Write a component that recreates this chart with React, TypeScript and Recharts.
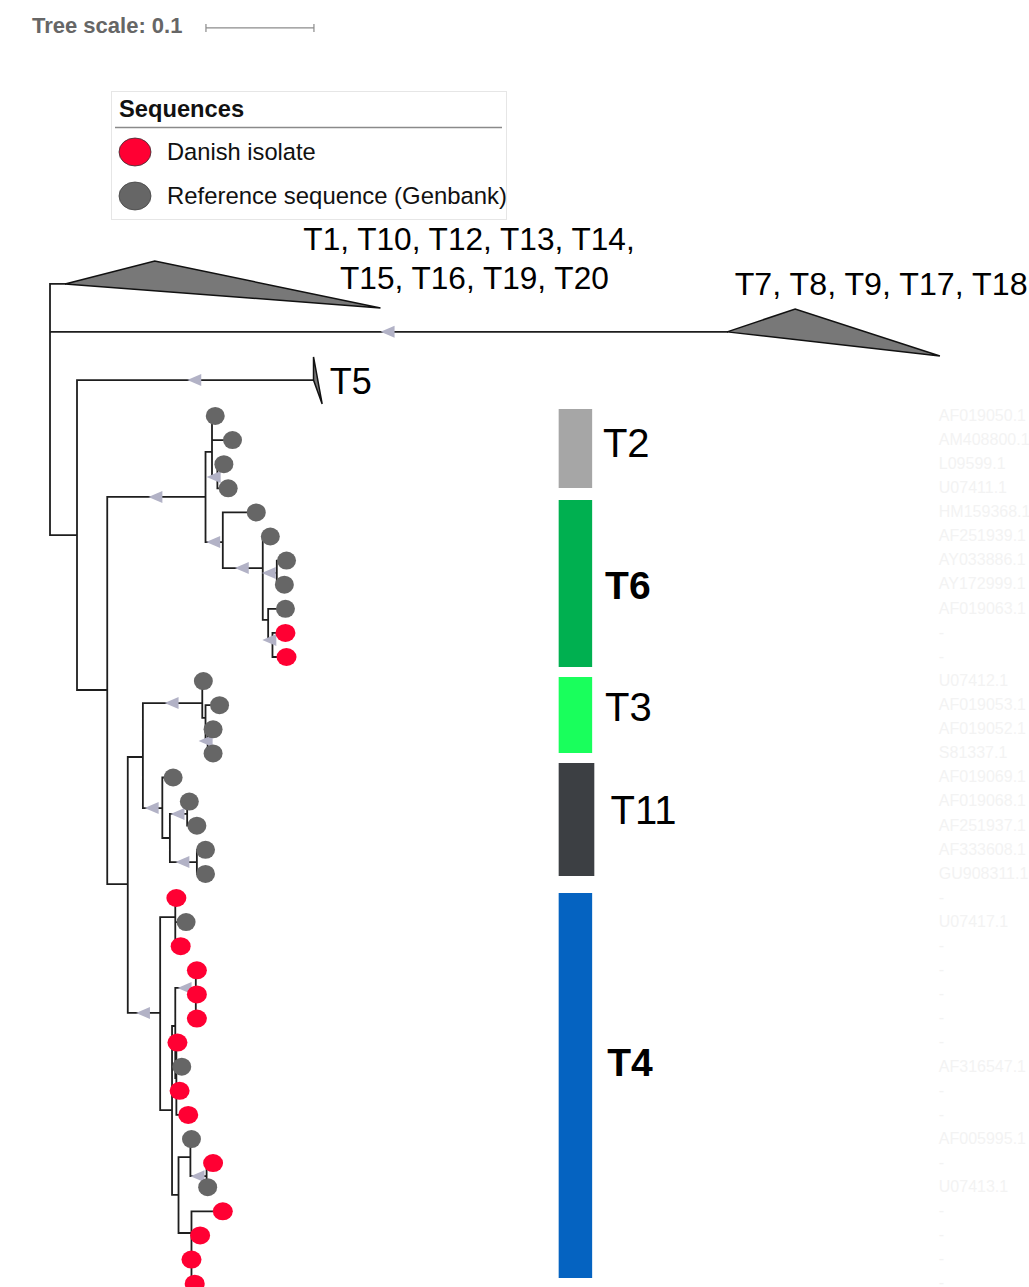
import { ReferenceArea, Scatter, ScatterChart, XAxis, YAxis } from 'recharts';

const FONT = '"Liberation Sans", Arial, Helvetica, sans-serif';

// visible window: x in tree units (substitutions/site), y in leaf rows
const X_DOMAIN = [-0.0463, 0.9065];
const Y_DOMAIN = [-17.26, 36.14];

// internal nodes: [id, parent, depth, row]
const NODES: [string, string | null, number, number][] = [
    ['root', null, 0, -0.25],
    ['A', 'root', 0.025, 4.94],
    ['B', 'A', 0.053, 11.37],
    ['C', 'B', 0.144, 3.36],
    ['D', 'C', 0.15, 1.49],
    ['D3', 'D', 0.155, 2.53],
    ['E', 'C', 0.16, 5.23],
    ['F', 'E', 0.197, 6.31],
    ['F1', 'F', 0.21, 6.51],
    ['F2', 'F', 0.202, 8.46],
    ['F3', 'F2', 0.206, 9.29],
    ['G', 'B', 0.072, 19.42],
    ['H', 'G', 0.086, 14.15],
    ['I', 'H', 0.141, 11.91],
    ['I2', 'I', 0.144, 12.53],
    ['I3', 'I2', 0.146, 13.49],
    ['J', 'H', 0.104, 16.27],
    ['K', 'J', 0.111, 17.51],
    ['K1', 'K', 0.127, 16.51],
    ['K2', 'K', 0.136, 18.51],
    ['L', 'G', 0.102, 24.77],
    ['M', 'L', 0.116, 20.79],
    ['N', 'L', 0.113, 28.8],
    ['O', 'N', 0.116, 25.31],
    ['O1', 'O', 0.135, 23.73],
    ['O2', 'O', 0.117, 27.47],
    ['P', 'N', 0.119, 32.32],
    ['Q', 'P', 0.13, 30.75],
    ['Q2', 'Q', 0.145, 31.54],
    ['R', 'P', 0.131, 33.9],
];

// leaves, one per row from the top
const LEAF_PARENT = [
    'D', 'D', 'D3', 'D3', 'E', 'F', 'F1', 'F1', 'F2', 'F3', 'F3',
    'I', 'I2', 'I3', 'I3',
    'J', 'K1', 'K1', 'K2', 'K2',
    'M', 'M', 'M', 'O1', 'O1', 'O1', 'O2', 'O2', 'O2', 'O2', 'Q', 'Q2', 'Q2', 'R', 'R', 'R', 'R',
];
const LEAF_DEPTH = [
    0.153, 0.169, 0.161, 0.165, 0.191, 0.204, 0.219, 0.217, 0.218, 0.218, 0.219,
    0.142, 0.157, 0.151, 0.151,
    0.114, 0.129, 0.136, 0.144, 0.144,
    0.117, 0.126, 0.121, 0.136, 0.136, 0.136, 0.118, 0.122, 0.12, 0.128, 0.131, 0.151, 0.146, 0.16, 0.139, 0.131, 0.134,
];
// D = Danish isolate, R = reference sequence (Genbank)
const LEAF_ORIGIN = [
    'R', 'R', 'R', 'R', 'R', 'R', 'R', 'R', 'R', 'D', 'D',
    'R', 'R', 'R', 'R',
    'R', 'R', 'R', 'R', 'R',
    'D', 'R', 'D', 'D', 'D', 'D', 'D', 'R', 'D', 'D', 'R', 'D', 'R', 'D', 'D', 'D', 'D',
];
const LEAF_ACCESSION = [
    'AF019050.1', 'AM408800.1', 'L09599.1', 'U07411.1', 'HM159368.1', 'AF251939.1', 'AY033886.1', 'AY172999.1', 'AF019063.1', '-', '-',
    'U07412.1', 'AF019053.1', 'AF019052.1', 'S81337.1',
    'AF019069.1', 'AF019068.1', 'AF251937.1', 'AF333608.1', 'GU908311.1',
    '-', 'U07417.1', '-', '-', '-', '-', '-', 'AF316547.1', '-', '-', 'AF005995.1', '-', 'U07413.1', '-', '-', '-', '-',
];

// collapsed clades
const COLLAPSED_PARENT = ['root', 'root', 'A'];
const COLLAPSED_DEPTH = [0.014, 0.627, 0.244];
const COLLAPSED_ROW = [-5.48, -3.49, -1.49];
const COLLAPSED_MIN_LEAF = [0.097, 0.69, 0.244];
const COLLAPSED_MAX_LEAF = [0.306, 0.824, 0.252];
const COLLAPSED_TOP_ROW = [-6.43, -4.44, -2.45];
const COLLAPSED_BOTTOM_ROW = [-4.48, -2.49, -0.5];

// genotype colour strips
const STRIP_NAMES = ['T2', 'T6', 'T3', 'T11', 'T4'];
const STRIP_FROM_ROW = [-0.29, 3.49, 10.83, 14.4, 19.79];
const STRIP_TO_ROW = [2.99, 10.41, 13.98, 19.09, 35.77];

// branches carrying a direction marker
const ARROW_NODES = ['C2', 'T5c', 'C', 'D3', 'E', 'F', 'F1', 'F3', 'I', 'I3', 'J', 'K1', 'K2', 'L', 'O1', 'Q2'];
const COLLAPSED_IDS = ['C1', 'C2', 'T5c'];

const SCALE_LENGTH = 0.1;

// text labels
const LABEL_TEXT = ['T1, T10, T12, T13, T14,', 'T15, T16, T19, T20', 'T7, T8, T9, T17, T18', 'T5', 'T2', 'T6', 'T3', 'T11', 'T4'];

// ---- layout / style ----
const LABEL_POS: [number, number, string, number, number][] = [
    [0.388, -7.34, 'middle', 31.6, 400],
    [0.393, -5.75, 'middle', 31.6, 400],
    [0.634, -5.52, 'start', 32.2, 400],
    [0.259, -1.45, 'start', 36, 400],
    [0.512, 1.12, 'start', 40, 400],
    [0.514, 7.01, 'start', 39, 700],
    [0.514, 12.07, 'start', 40, 400],
    [0.519, 16.35, 'start', 40, 400],
    [0.516, 26.8, 'start', 39, 700],
];
const STRIP_X: [number, number][] = [
    [0.471, 0.502],
    [0.471, 0.502],
    [0.471, 0.502],
    [0.471, 0.504],
    [0.471, 0.502],
];
const STRIP_COLORS = ['#a6a6a6', '#00b050', '#19ff5c', '#3c3f43', '#0563c1'];
const ACCESSION_X = 0.823;
const SCALE_X = 0.1444;
const SCALE_ROW = -16.1;
const RED = '#ff0033';
const GREY = '#666666';

// ---- build tree geometry from the data ----
type Node = { id: string; parent: string | null; depth: number; row: number };
const nodes: Node[] = NODES.map(([id, parent, depth, row]) => ({ id, parent, depth, row }));
const leaves = LEAF_DEPTH.map((depth, i) => ({
    id: `leaf${i}`,
    parent: LEAF_PARENT[i],
    depth,
    row: i,
    origin: LEAF_ORIGIN[i],
    acc: LEAF_ACCESSION[i],
}));
const collapsed = COLLAPSED_IDS.map((id, i) => ({
    id,
    parent: COLLAPSED_PARENT[i],
    depth: COLLAPSED_DEPTH[i],
    row: COLLAPSED_ROW[i],
}));

const byId = new Map<string, Node>();
[...nodes, ...leaves, ...collapsed].forEach((n) => byId.set(n.id, n));

const children = [...nodes.filter((n) => n.parent), ...leaves, ...collapsed];
const branchPoints: { x: number; y: number }[] = [];
children.forEach((c) => {
    const p = byId.get(c.parent as string)!;
    branchPoints.push({ x: p.depth, y: c.row }, { x: c.depth, y: c.row });
});
nodes.forEach((n) => {
    const rows = children.filter((c) => c.parent === n.id).map((c) => c.row);
    if (!rows.length) return;
    const lo = Math.min(n.row, ...rows);
    const hi = Math.max(n.row, ...rows);
    branchPoints.push({ x: n.depth, y: lo }, { x: n.depth, y: hi });
});

const arrowPoints = ARROW_NODES.map((id) => {
    const c = byId.get(id)!;
    const p = byId.get(c.parent as string)!;
    return { x: (p.depth + c.depth) / 2, y: c.row };
});

const trianglePoints = collapsed.map((c, i) => [
    { x: c.depth, y: c.row },
    { x: COLLAPSED_MIN_LEAF[i], y: COLLAPSED_TOP_ROW[i] },
    { x: COLLAPSED_MAX_LEAF[i], y: COLLAPSED_BOTTOM_ROW[i] },
]);

const leafPoints = leaves.map((l) => ({ x: l.depth, y: l.row, origin: l.origin }));
const accessionPoints = leaves.map((l) => ({ x: ACCESSION_X, y: l.row, text: l.acc }));
const scalePoints = [
    { x: SCALE_X, y: SCALE_ROW },
    { x: SCALE_X + SCALE_LENGTH, y: SCALE_ROW },
];
const labelPoints = LABEL_TEXT.map((text, i) => {
    const [x, y, anchor, size, weight] = LABEL_POS[i];
    return { x, y, text, anchor, size, weight };
});

// ---- renderers ----
const NoDot = () => <g />;

const pairPath = (stroke: string, width: number) => (props: any) => {
    const pts = props.points || [];
    let d = '';
    for (let i = 0; i + 1 < pts.length; i += 2) {
        d += `M${pts[i].x},${pts[i].y}L${pts[i + 1].x},${pts[i + 1].y}`;
    }
    return <path d={d} fill="none" stroke={stroke} strokeWidth={width} strokeLinecap="square" />;
};

const scaleBar = (props: any) => {
    const [a, b] = props.points || [];
    if (!a || !b) return <g />;
    return (
        <path
            d={`M${a.x},${a.y}L${b.x},${b.y}M${a.x},${a.y - 4}L${a.x},${a.y + 4}M${b.x},${b.y - 4}L${b.x},${b.y + 4}`}
            stroke="#8c8c8c"
            strokeWidth={1.2}
            fill="none"
        />
    );
};

const triangle = (props: any) => {
    const pts = props.points || [];
    return (
        <polygon
            points={pts.map((p: any) => `${p.x},${p.y}`).join(' ')}
            fill="#787878"
            stroke="#111"
            strokeWidth={1.5}
        />
    );
};

const ArrowMark = (props: any) => {
    const { cx, cy } = props;
    return <polygon points={`${cx - 8},${cy} ${cx + 6},${cy - 6} ${cx + 6},${cy + 6}`} fill="#b2b2c6" />;
};

const LeafDot = (props: any) => {
    const { cx, cy, payload } = props;
    const dk = payload.origin === 'D';
    return <ellipse cx={cx} cy={cy} rx={dk ? 10 : 9.5} ry={9} fill={dk ? RED : GREY} />;
};

const TextMark = (props: any) => {
    const { cx, cy, payload } = props;
    return (
        <text
            x={cx}
            y={cy}
            dy="0.36em"
            textAnchor={payload.anchor}
            fontSize={payload.size}
            fontWeight={payload.weight}
            fontFamily={FONT}
            fill="#000"
        >
            {payload.text}
        </text>
    );
};

const AccessionMark = (props: any) => {
    const { cx, cy, payload } = props;
    return (
        <text x={cx} y={cy} dy="0.3em" fontSize={16} fontFamily={FONT} fill="#f3f3f3">
            {payload.text}
        </text>
    );
};

function LegendOverlay() {
    return (
        <svg width={1029} height={240} style={{ position: 'absolute', left: 0, top: 0, pointerEvents: 'none' }}>
            <text x={32} y={33} fontSize={22} fontWeight={700} fill="#666" fontFamily={FONT}>
                Tree scale: 0.1
            </text>
            <rect x={111.5} y={91.5} width={395} height={128} fill="#fff" stroke="#e6e6e6" />
            <text x={119} y={117} fontSize={23.7} fontWeight={700} fill="#111" fontFamily={FONT}>
                Sequences
            </text>
            <line x1={115} x2={502} y1={127.5} y2={127.5} stroke="#8a8a8a" strokeWidth={1.5} />
            <ellipse cx={135} cy={152} rx={16} ry={14} fill={RED} stroke="#333" strokeWidth={0.8} />
            <text x={167} y={160} fontSize={23.7} fill="#111" fontFamily={FONT}>
                Danish isolate
            </text>
            <ellipse cx={135} cy={196} rx={16} ry={14} fill={GREY} stroke="#444" strokeWidth={0.8} />
            <text x={167} y={204} fontSize={23.9} fill="#111" fontFamily={FONT}>
                Reference sequence (Genbank)
            </text>
        </svg>
    );
}

export default function App() {
    return (
        <div style={{ position: 'relative', width: 1029, height: 1287, background: '#fff', overflow: 'hidden' }}>
            <style>{'body{margin:0;background:#fff}'}</style>
            <ScatterChart width={1029} height={1287} margin={{ top: 0, right: 0, bottom: 0, left: 0 }}>
                <XAxis type="number" dataKey="x" domain={X_DOMAIN} allowDataOverflow hide />
                <YAxis type="number" dataKey="y" domain={Y_DOMAIN} allowDataOverflow reversed hide />
                {STRIP_NAMES.map((name, i) => (
                    <ReferenceArea
                        key={name}
                        x1={STRIP_X[i][0]}
                        x2={STRIP_X[i][1]}
                        y1={STRIP_FROM_ROW[i]}
                        y2={STRIP_TO_ROW[i]}
                        fill={STRIP_COLORS[i]}
                        fillOpacity={1}
                        stroke="none"
                    />
                ))}
                <Scatter data={accessionPoints} shape={AccessionMark} isAnimationActive={false} />
                <Scatter data={scalePoints} shape={NoDot} line={scaleBar} isAnimationActive={false} />
                <Scatter data={branchPoints} shape={NoDot} line={pairPath('#1e1e1e', 1.8)} isAnimationActive={false} />
                {trianglePoints.map((pts, i) => (
                    <Scatter key={i} data={pts} shape={NoDot} line={triangle} isAnimationActive={false} />
                ))}
                <Scatter data={arrowPoints} shape={ArrowMark} isAnimationActive={false} />
                <Scatter data={leafPoints} shape={LeafDot} isAnimationActive={false} />
                <Scatter data={labelPoints} shape={TextMark} isAnimationActive={false} />
            </ScatterChart>
            <LegendOverlay />
        </div>
    );
}
